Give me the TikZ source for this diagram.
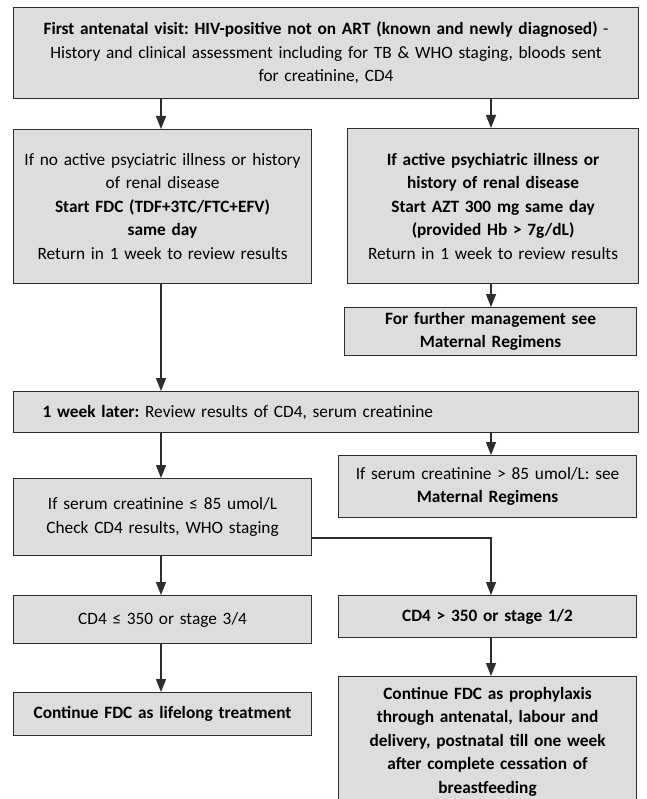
\documentclass[tikz,border=0pt]{standalone}
\usepackage{fontspec}
\setmainfont{Carlito}
\usetikzlibrary{arrows.meta}
\definecolor{boxfill}{RGB}{220,221,222}
\definecolor{boxline}{RGB}{45,45,45}
\tikzset{
  flowbox/.style={draw=boxline, fill=boxfill, line width=1.1pt, inner sep=0pt,
    align=center, anchor=north west, font=\frenchspacing\fontsize{17.3}{23.5}\selectfont},
  arr/.style={draw=boxline, line width=1.1pt, -{Triangle[length=13pt,width=10pt]}},
}
% place a box by its top-left corner, width and height
\newcommand{\flowbox}[6]{%
  \node[flowbox, minimum width=#4pt, minimum height=#5pt, text width=#4pt-6pt] (#1) at (#2,#3) {#6};}
\begin{document}
\begin{tikzpicture}[x=1pt,y=-1pt]
\useasboundingbox (0,0) rectangle (646,799);
\fill[white] (0,0) rectangle (646,799);

\coordinate (L) at (161,0);
\coordinate (R) at (491,0);
\coordinate (turn) at (0,538);

\flowbox{visit}{13}{7}{625}{91}{\textbf{First antenatal visit: HIV-positive not on ART (known and newly diagnosed)} -\\
History and clinical assessment including for TB \& WHO staging, bloods sent\\
for creatinine, CD4}

\flowbox{fdc}{13}{129}{298}{154}{If no active psyciatric illness or history\\
of renal disease\\
\textbf{Start FDC (TDF+3TC/FTC+EFV)}\\
\textbf{same day}\\
Return in 1 week to review results}

\flowbox{azt}{347}{128}{291}{155}{\textbf{If active psychiatric illness or}\\
\textbf{history of renal disease}\\
\textbf{Start AZT 300 mg same day}\\
\textbf{(provided Hb > 7g/dL)}\\
Return in 1 week to review results}

\flowbox{further}{344}{307}{292}{48}{\textbf{For further management see}\\
\textbf{Maternal Regimens}}

\node[flowbox, minimum width=625pt, minimum height=41pt, align=left,
      text width=625pt-58pt, inner xsep=29pt] (week) at (13,391)
  {\textbf{1 week later:} Review results of CD4, serum creatinine};

\flowbox{creatok}{13}{478}{298}{77}{If serum creatinine ≤ 85 umol/L\\
Check CD4 results, WHO staging}

\flowbox{creathigh}{338}{455}{298}{62}{If serum creatinine > 85 umol/L: see\\
\textbf{Maternal Regimens}}

\flowbox{low}{13}{595}{298}{48}{CD4 ≤ 350 or stage 3/4\\[8pt]}

\flowbox{high}{338}{595}{298}{42}{\textbf{CD4 > 350 or stage 1/2}\\[6pt]}

\flowbox{lifelong}{13}{692}{298}{43}{\textbf{Continue FDC as lifelong treatment}}

\flowbox{prophy}{338}{676}{298}{130}{\textbf{Continue FDC as prophylaxis}\\
\textbf{through antenatal, labour and}\\
\textbf{delivery, postnatal till one week}\\
\textbf{after complete cessation of}\\
\textbf{breastfeeding}\\[4pt]}

% connectors
\draw[arr] (visit.south -| L) -- (fdc.north -| L);
\draw[arr] (visit.south -| R) -- (azt.north -| R);
\draw[arr] (azt.south -| R) -- (further.north -| R);
\draw[arr] (fdc.south -| L) -- (week.north -| L);
\draw[arr] (week.south -| L) -- (creatok.north -| L);
\draw[arr] (week.south -| R) -- (creathigh.north -| R);
\draw[arr] (creatok.south -| L) -- (low.north -| L);
\draw[arr] (creatok.east |- turn) -| (high.north -| R);
\draw[arr] (low.south -| L) -- (lifelong.north -| L);
\draw[arr] (high.south -| R) -- (prophy.north -| R);
\end{tikzpicture}
\end{document}
